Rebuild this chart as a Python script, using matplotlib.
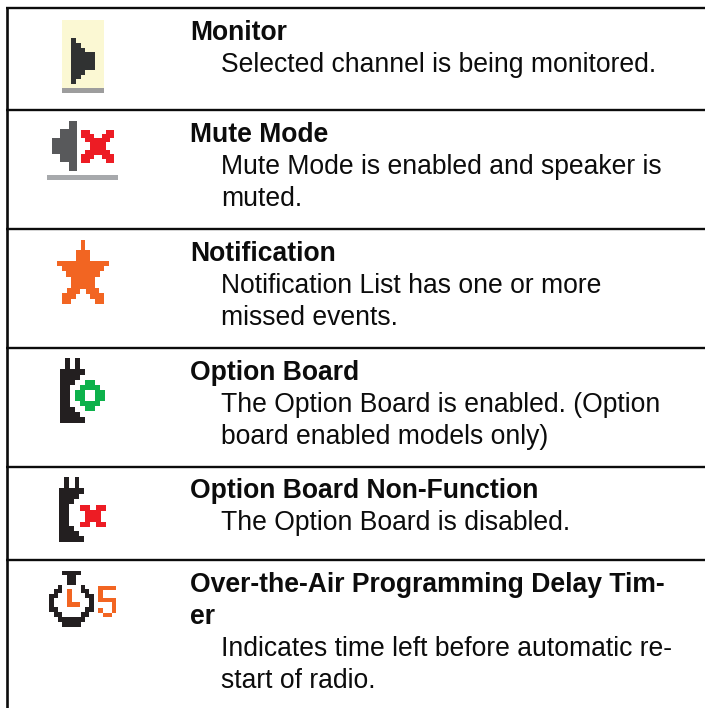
import matplotlib
matplotlib.use("Agg")
import matplotlib.pyplot as plt
from matplotlib.patches import Polygon, Rectangle

W, H = 705, 708
titles = ["Monitor", "Mute Mode", "Notification", "Option Board", "Option Board Non-Function",
          "Over-the-Air Programming Delay Tim-\ner"]
descriptions = ["Selected channel is being monitored.",
                "Mute Mode is enabled and speaker is\nmuted.",
                "Notification List has one or more\nmissed events.",
                "The Option Board is enabled. (Option\nboard enabled models only)",
                "The Option Board is disabled.",
                "Indicates time left before automatic re-\nstart of radio."]
rows_y = [8, 110, 229, 347.7, 466.7, 560]
title_base = [40, 142, 261, 379.5, 497.5, 592]

plt.rcParams['font.family'] = 'Liberation Sans'
fig = plt.figure(figsize=(W/100, H/100), dpi=100)
ax = fig.add_axes([0, 0, 1, 1])
ax.set_xlim(0, W); ax.set_ylim(H, 0); ax.axis('off')

for y in rows_y:
    ax.plot([6, W], [y, y], color='#0c0c0c', lw=1.7, solid_capstyle='butt')
ax.plot([7, 7], [7, H], color='#0c0c0c', lw=1.9, solid_capstyle='butt')

LH = 32
FS = 19.1
for t, d, b in zip(titles, descriptions, title_base):
    y = b
    for l in t.split("\n"):
        ax.text(190, y, l, fontsize=FS, fontweight='bold', va='baseline', color='#0c0c0c')
        y += LH
    for l in d.split("\n"):
        ax.text(221.2, y, l, fontsize=FS, va='baseline', color='#0c0c0c')
        y += LH

def rect(x0, y0, x1, y1, c):
    ax.add_patch(Rectangle((x0, y0), x1-x0, y1-y0, fc=c, ec='none'))
def poly(pts, c):
    ax.add_patch(Polygon(pts, closed=True, fc=c, ec='none'))

# monitor
rect(62, 20, 104, 88, '#fbf8d3')
rect(62, 88, 104, 93, '#9d9d9d')
poly([(71,38),(76,38),(76,43),(81,43),(81,48),(85,48),(85,52),(95,52),(95,70),(85,70),(85,75),(81,75),(81,79),(76,79),(76,84),(71,84)], '#303232')
# mute
rect(47, 175, 118, 180, '#a7a9ac')
poly([(77,121),(77,171),(69,171),(69,162),(60,162),(60,154),(52,154),(52,138),(60,138),(60,129),(69,129),(69,121)], '#58595b')
poly([(81,130),(90,130),(90,134),(94,134),(94,138),(102,138),(102,134),(106,134),(106,130),(114,130),(114,138),(110,138),(110,142),(106,142),(106,150),(110,150),(110,154),(114,154),(114,163),(106,163),(106,159),(102,159),(102,155),(94,155),(94,159),(90,159),(90,163),(81,163),(81,154),(85,154),(85,150),(90,150),(90,142),(85,142),(85,138),(81,138)], '#ed1c24')
# star
poly([(81,240),(85,240),(85,250),(90,250),(90,261),(109,261),(109,266),(104,266),(104,271),(100,271),(100,277),(95,277),(95,288),(99,288),(99,293),(104,293),(104,304),(95,304),(95,299),(90,299),(90,294),(86,294),(86,289),(80,289),(80,294),(76,294),(76,299),(71,299),(71,304),(62,304),(62,293),(67,293),(67,288),(71,288),(71,277),(66,277),(66,271),(62,271),(62,266),(57,266),(57,261),(76,261),(76,250),(81,250)], '#f26522')
# option board plug shape
def plug(dx, T):
    off = [(64.7,0),(69.8,0),(69.8,10.7),(75.3,10.7),(75.3,0),(80,0),(80,10.7),(85,10.7),(85,16.7),(80,16.7),(80,21.7),(75,21.7),(75,26.7),(70,26.7),(70,49),(75,49),(75,54),(80,54),(80,59),(85,59),(85,65),(60,65),(60,10.7),(64.7,10.7)]
    poly([(x+dx, y+T) for x, y in off], '#231f20')
plug(0, 358)
poly([(85,379.7),(95,379.7),(95,384.7),(100,384.7),(100,389.7),(105,389.7),(105,401),(100,401),(100,406),(95,406),(95,411.3),(85,411.3),(85,406),(80,406),(80,401),(75,401),(75,389.7),(80,389.7),(80,384.7),(85,384.7)], '#0db14b')
rect(85, 390, 95, 401, 'white')
plug(-0.7, 477.3)
# red x small
poly([(80,505),(90,505),(90,510),(95.7,510),(95.7,505),(106,505),(106,510.7),(101,510.7),(101,521.7),(106,521.7),(106,527.3),(95.7,527.3),(95.7,522.3),(90,522.3),(90,527.3),(80,527.3),(80,521.7),(85,521.7),(85,510.7),(80,510.7)], '#ed1c24')
# timer
rect(62, 571, 81, 575, '#231f20'); rect(67, 575, 76, 585, '#231f20')
ring = [(52,60),(40,60),(40,72),(27,72),(27,87),(13,87),(13,140),(27,140),(27,155),(40,155),(40,170),(52,170),(52,185),(107,185),(107,170),(119,170),(119,155),(132,155),(132,140),(146,140),(146,87),(132,87),(132,72),(119,72),(119,60),(107,60),(107,85),(119,85),(119,100),(132,100),(132,127),(119,127),(119,142),(107,142),(107,157),(52,157),(52,142),(40,142),(40,127),(27,127),(27,100),(40,100),(40,85),(52,85)]
poly([(45+x/3, 565+y/3) for x, y in ring], '#231f20')
rect(66.7, 589, 71.7, 607, '#f26522'); rect(66.7, 602.3, 80, 607, '#f26522')
rect(98.3, 585.7, 116, 590, '#f26522'); rect(98.3, 590, 103.3, 598, '#f26522'); rect(98.3, 598, 116, 602, '#f26522')
rect(111.7, 602, 116, 613, '#f26522'); rect(103.3, 613, 111.7, 617.3, '#f26522'); rect(98.3, 608.3, 103.3, 612.7, '#f26522')

fig.savefig('out.png', dpi=100)
